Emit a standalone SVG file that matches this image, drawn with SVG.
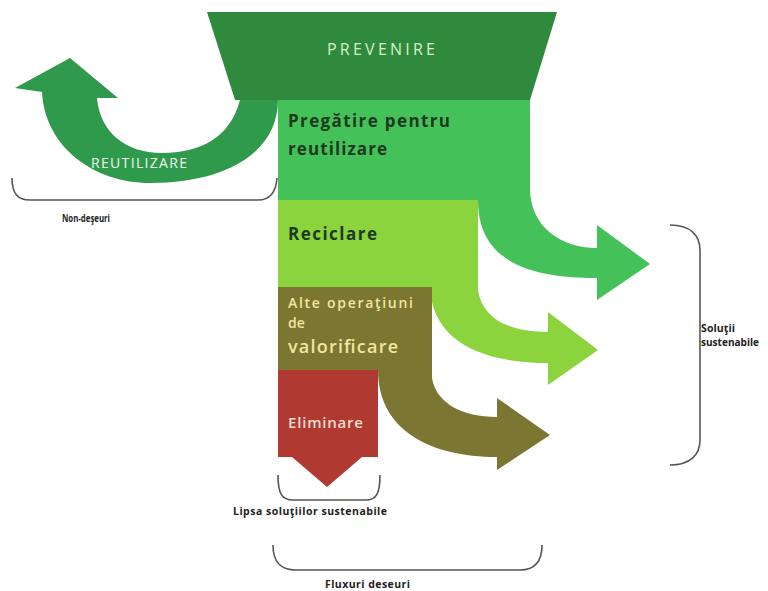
<svg xmlns="http://www.w3.org/2000/svg" width="768" height="591" viewBox="0 0 768 591">
<style>
.t{font-family:"Open Sans","Liberation Sans",sans-serif}
.dark{fill:#1c3a1e;font-weight:700;font-size:17px}
.lbl{fill:#222;font-weight:700;font-size:10.5px}
.br{fill:none;stroke:#555;stroke-width:1.6}
</style>
<rect width="768" height="591" fill="#fff"/>
<g id="reutilizare">
<path d="M240,100 C230,138 200,153 162,153 C125,153 100,132 97,98 L118,98 L70,58 L15,88 L42,92 C45,148 95,183 150,183 C230,183 278,150 278,100 Z" fill="#2f9a4c"/>
<text class="t" x="91" y="168" textLength="96" font-size="14" fill="#eef8ee">REUTILIZARE</text>
</g>
<g id="prevenire">
<polygon points="207,12 557,12 530,100 235,100" fill="#2f8a3e"/>
<text class="t" x="327" y="55" textLength="108" font-size="16" fill="#d8f0c8">PREVENIRE</text>
</g>
<g id="pregatire">
<path d="M278,100 H530 V188 C530,226 560,248 597,248 V225 L650,264 L597,300 V278 C530,278 478,262 478,200 H278 Z" fill="#45c15a"/>
<text class="t dark" x="288" y="127" textLength="162">Pregătire pentru</text>
<text class="t dark" x="288" y="155" textLength="99">reutilizare</text>
</g>
<g id="reciclare">
<path d="M278,200 H478 V290 C482,318 508,332 548,332 V312 L598,350 L548,385 V363 C480,363 432,340 430,287 H278 Z" fill="#8cd43e"/>
<text class="t dark" x="288" y="240" textLength="89">Reciclare</text>
</g>
<g id="valorificare">
<path d="M278,287 H432 V378 C436,403 462,417 497,417 V398 L550,435 L497,470 V457 C430,457 378,430 378,370 H278 Z" fill="#7b7632"/>
<text class="t" x="288" y="308" textLength="125" font-size="14" font-weight="600" fill="#f2e6a0">Alte operaţiuni</text>
<text class="t" x="288" y="328" font-size="14" font-weight="600" fill="#f2e6a0">de</text>
<text class="t" x="288" y="353" textLength="110" font-size="18" font-weight="600" fill="#f2e6a0">valorificare</text>
</g>
<g id="eliminare">
<path d="M278,370 H378 V457 H362 L327,487 L292,457 H278 Z" fill="#b03a32"/>
<text class="t" x="288" y="428" textLength="75" font-size="15" font-weight="600" fill="#f3ddd0">Eliminare</text>
</g>
<g id="connectors">
<path class="br" d="M12,178 C12,194 18,200 30,200 H258 C270,200 276,192 277,178"/>
<path class="br" d="M278,475 C278,494 282,500 293,500 H366 C376,500 380,494 380,475"/>
<path class="br" d="M273,545 C273,562 280,570 296,570 H520 C535,570 542,562 542,545"/>
<path class="br" d="M670,225 C690,225 700,235 700,250 V440 C700,455 690,465 670,465"/>
</g>
<g id="labels">
<text class="t lbl" x="62" y="222" textLength="48" lengthAdjust="spacingAndGlyphs" font-size="9.5">Non-deşeuri</text>
<text class="t lbl" x="233" y="515" textLength="154">Lipsa soluţiilor sustenabile</text>
<text class="t lbl" x="325" y="588" textLength="85">Fluxuri deseuri</text>
<text class="t lbl" x="701" y="332" textLength="34" font-size="10">Soluţii</text>
<text class="t lbl" x="701" y="346" textLength="58" lengthAdjust="spacingAndGlyphs" font-size="10">sustenabile</text>
</g>
</svg>
